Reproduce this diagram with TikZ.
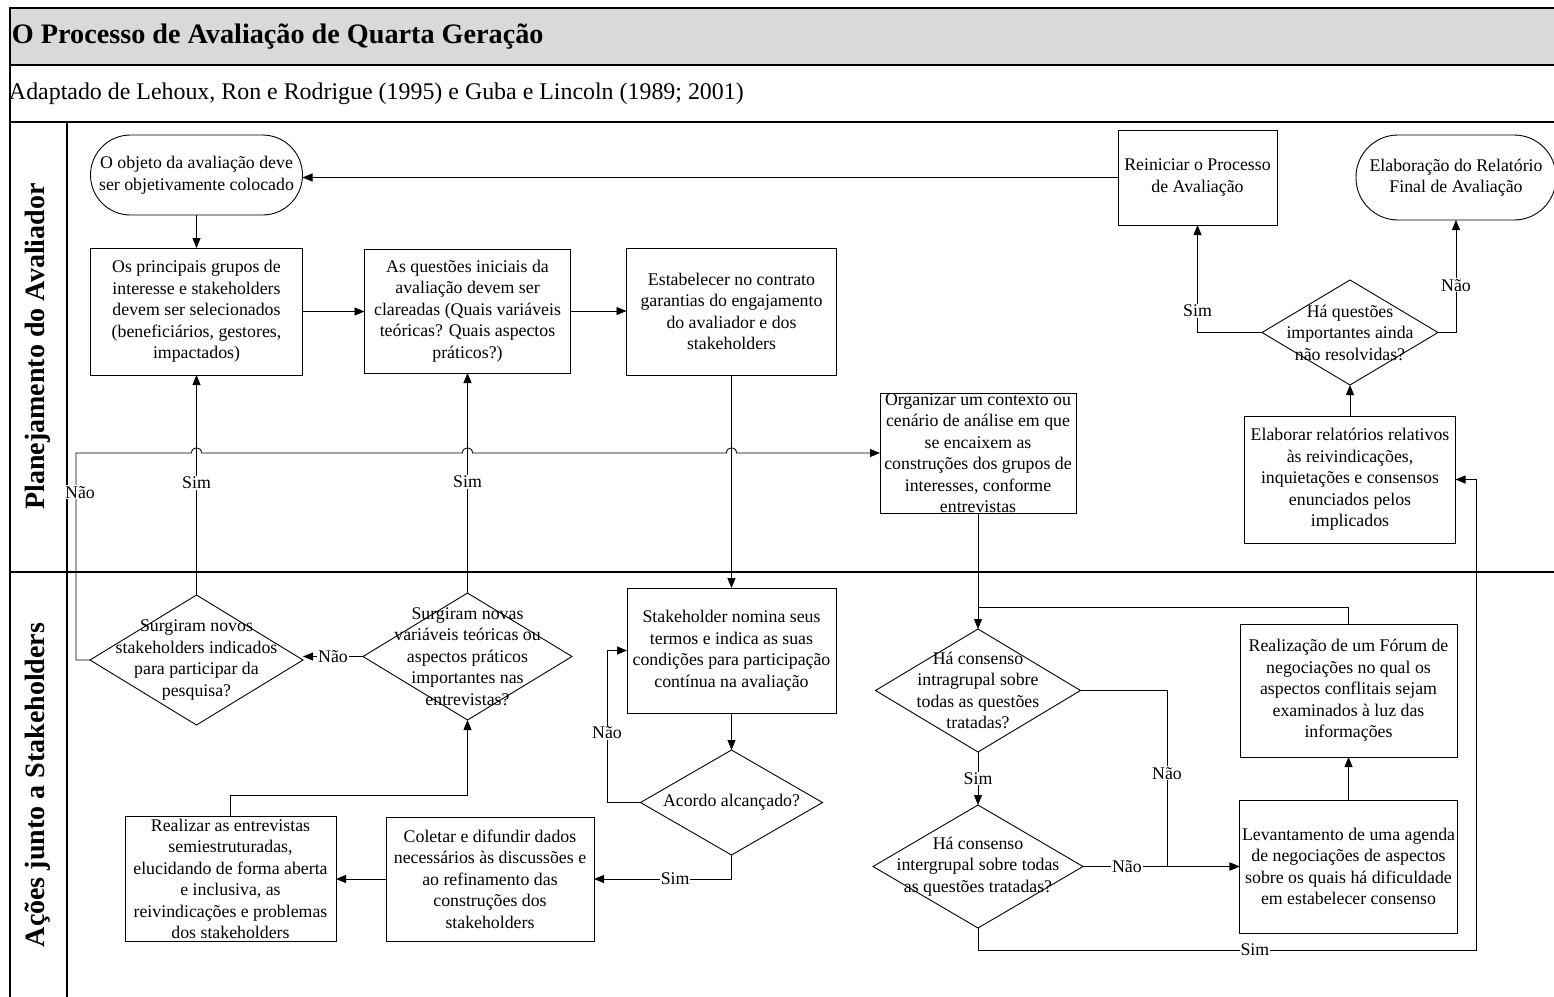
\documentclass[tikz,border=0pt]{standalone}
\usepackage{fontspec}
\setmainfont{Liberation Serif}
\usetikzlibrary{arrows.meta,calc,shapes.geometric}
\definecolor{titlegray}{HTML}{D9D9D9}
\begin{document}
\begin{tikzpicture}[x=1pt,y=-1pt,
  every node/.style={inner sep=0pt, outer sep=0pt},
  body/.style={font=\fontsize{17.8}{21.5}\selectfont, align=center},
  pbox/.style={draw, line width=0.9pt, rectangle},
  term/.style={draw, line width=0.9pt, rectangle, rounded corners=40pt},
  decis/.style={draw, line width=0.9pt, diamond},
  conn/.style={line width=0.85pt, -{Triangle[length=10pt,width=8pt]}},
  plainline/.style={line width=0.85pt},
  lbl/.style={fill=white, inner sep=1pt, font=\fontsize{17.8}{21.5}\selectfont},
  lanelbl/.style={font=\fontsize{28}{30}\selectfont\bfseries, rotate=90},
  frameline/.style={line width=1.2pt}
]
\useasboundingbox (0,0) rectangle (1554,996);
% frame
\fill[titlegray] (10,8) rectangle (1560,65);
\draw[frameline] (1560,8) -- (10,8) -- (10,1000);
\draw[frameline] (10,65) -- (1560,65);
\draw[frameline] (10,122) -- (1560,122);
\draw[frameline] (10,572) -- (1560,572);
\draw[frameline] (67,122) -- (67,1000);
\node[anchor=west, font=\fontsize{28.2}{30}\selectfont\bfseries] (title) at (12,37) {O Processo de Avaliação de Quarta Geração};
\node[anchor=west, font=\fontsize{23.9}{26}\selectfont] (subtitle) at (9,94) {Adaptado de Lehoux, Ron e Rodrigue (1995) e Guba e Lincoln (1989; 2001)};
\node[lanelbl] (lane1) at (38,346.5) {Planejamento do Avaliador};
\node[lanelbl] (lane2) at (38,785) {Ações junto a Stakeholders};

% lane 1 nodes
\node[term, minimum width=212pt, minimum height=80pt,
  label={[body,name=t-obj]center:{O objeto da avaliação deve\\ser objetivamente colocado}}] (obj) at (196.5,175) {};
\node[pbox, minimum width=212pt, minimum height=127pt,
  label={[body,name=t-grp]center:{Os principais grupos de\\interesse e stakeholders\\devem ser selecionados\\(beneficiários, gestores,\\impactados)}}] (grp) at (196.5,311.5) {};
\node[pbox, minimum width=206pt, minimum height=124pt,
  label={[body,name=t-qst]center:{As questões iniciais da\\avaliação devem ser\\clareadas (Quais variáveis\\teóricas? Quais aspectos\\práticos?)}}] (qst) at (467.5,311) {};
\node[pbox, minimum width=210pt, minimum height=127pt,
  label={[body,name=t-ctr]center:{Estabelecer no contrato\\garantias do engajamento\\do avaliador e dos\\stakeholders}}] (ctr) at (731.5,311.5) {};
\node[pbox, minimum width=159pt, minimum height=95pt,
  label={[body,name=t-rei]center:{Reiniciar o Processo\\de Avaliação}}] (rei) at (1197.5,177.5) {};
\node[term, rounded corners=42pt, minimum width=200pt, minimum height=85pt,
  label={[body,name=t-fin]center:{Elaboração do Relatório\\Final de Avaliação}}] (fin) at (1456,177.5) {};
\node[decis, minimum width=176pt, minimum height=105pt,
  label={[body,name=t-dq]center:{Há questões\\importantes ainda\\não resolvidas?}}] (dq) at (1350,332.5) {};
\node[pbox, minimum width=211pt, minimum height=127pt,
  label={[body,name=t-rel]center:{Elaborar relatórios relativos\\às reivindicações,\\inquietações e consensos\\enunciados pelos\\implicados}}] (rel) at (1350,479.5) {};
\node[pbox, minimum width=196pt, minimum height=120pt,
  label={[body,name=t-org]center:{Organizar um contexto ou\\cenário de análise em que\\se encaixem as\\construções dos grupos de\\interesses, conforme\\entrevistas}}] (org) at (978,453) {};

% lane 2 nodes
\node[decis, minimum width=213pt, minimum height=130pt,
  label={[body,name=t-d1]center:{Surgiram novos\\stakeholders indicados\\para participar da\\pesquisa?}}] (d1) at (196.5,660) {};
\node[decis, minimum width=209pt, minimum height=127pt,
  label={[body,name=t-d2]center:{Surgiram novas\\variáveis teóricas ou\\aspectos práticos\\importantes nas\\entrevistas?}}] (d2) at (467.5,656.5) {};
\node[pbox, minimum width=209pt, minimum height=125pt,
  label={[body,name=t-stk]center:{Stakeholder nomina seus\\termos e indica as suas\\condições para participação\\contínua na avaliação}}] (stk) at (731.5,650.5) {};
\node[decis, minimum width=182pt, minimum height=105pt,
  label={[body,name=t-acd]center:{Acordo alcançado?}}] (acd) at (731.5,802.5) {};
\node[pbox, minimum width=208pt, minimum height=124pt,
  label={[body,name=t-col]center:{Coletar e difundir dados\\necessários às discussões e\\ao refinamento das\\construções dos\\stakeholders}}] (col) at (490,879) {};
\node[pbox, minimum width=211pt, minimum height=125pt,
  label={[body,name=t-rea]center:{Realizar as entrevistas\\semiestruturadas,\\elucidando de forma aberta\\e inclusiva, as\\reivindicações e problemas\\dos stakeholders}}] (rea) at (230.5,879) {};
\node[decis, minimum width=205pt, minimum height=123pt,
  label={[body,name=t-c1]center:{Há consenso\\intragrupal sobre\\todas as questões\\tratadas?}}] (c1) at (978,690.5) {};
\node[decis, minimum width=210pt, minimum height=123pt,
  label={[body,name=t-c2]center:{Há consenso\\intergrupal sobre todas\\as questões tratadas?}}] (c2) at (978,866.5) {};
\node[pbox, minimum width=217pt, minimum height=133pt,
  label={[body,name=t-frm]center:{Realização de um Fórum de\\negociações no qual os\\aspectos conflitais sejam\\examinados à luz das\\informações}}] (frm) at (1348.5,690.5) {};
\node[pbox, minimum width=218pt, minimum height=133pt,
  label={[body,name=t-lev]center:{Levantamento de uma agenda\\de negociações de aspectos\\sobre os quais há dificuldade\\em estabelecer consenso}}] (lev) at (1348.5,866.5) {};

% helper coordinates
\coordinate (nb) at (76,453);
\coordinate (h1) at (grp.south |- nb);
\coordinate (h2) at (qst.south |- nb);
\coordinate (h3) at (ctr.south |- nb);
\coordinate (an) at (607,650.5);
\coordinate (rb) at (230.5,795);
\coordinate (jn) at (978,607);
\coordinate (cn) at (1167,690.5);
\coordinate (sb) at (1476,950);

% connectors lane 1
\draw[conn] (rei.west) -- (rei.west -| obj.east);
\draw[conn] (obj.south) -- (grp.north);
\draw[conn] (grp.east) -- (grp.east -| qst.west);
\draw[conn] (qst.east) -- (qst.east -| ctr.west);
\draw[conn] (ctr.south) -- (stk.north);
\draw[conn] (rel.north) -- (dq.south);
\draw[conn] (dq.west) -- (dq.west -| rei.south) -- node[lbl,pos=0.2]{Sim} (rei.south);
\draw[conn] (dq.east) -- (dq.east -| fin.south) -- node[lbl,pos=0.42]{Não} (fin.south);

% connectors lane 2 / cross-lane
\draw[conn] (d1.north) -- node[lbl,pos=0.51]{Sim} (grp.south);
\draw[conn] (d2.north) -- node[lbl,pos=0.505]{Sim} (qst.south);
\draw[conn] (d2.west) -- node[lbl]{Não} (d2.west -| d1.east);
\draw[conn] (d1.west) -- (d1.west -| nb) -- node[lbl,pos=0.81,xshift=4pt]{Não} (nb)
  -- ($(h1)+(-5,0)$) .. controls ($(h1)+(-5,-7)$) and ($(h1)+(5,-7)$) .. ($(h1)+(5,0)$)
  -- ($(h2)+(-5,0)$) .. controls ($(h2)+(-5,-7)$) and ($(h2)+(5,-7)$) .. ($(h2)+(5,0)$)
  -- ($(h3)+(-5,0)$) .. controls ($(h3)+(-5,-7)$) and ($(h3)+(5,-7)$) .. ($(h3)+(5,0)$)
  -- (nb -| org.west);
\draw[conn] (stk.south) -- (acd.north);
\draw[conn] (acd.west) -- (acd.west -| an) -- node[lbl,pos=0.46]{Não} (an) -- (stk.west);
\draw[conn] (acd.south) -- (acd.south |- col.east) -- node[lbl,pos=0.41]{Sim} (col.east);
\draw[conn] (col.west) -- (rea.east);
\draw[conn] (rea.north) -- (rea.north |- rb) -| (d2.south);
\draw[conn] (org.south) -- (c1.north);
\draw[plainline] (frm.north) -- (frm.north |- jn) -- (jn);
\draw[conn] (c1.south) -- node[lbl]{Sim} (c2.north);
\draw[conn] (c1.east) -- (cn) -- node[lbl,pos=0.47]{Não} (cn |- lev.west) -- (lev.west);
\draw[conn] (c2.east) -- node[lbl,pos=0.28]{Não} (lev.west);
\draw[conn] (c2.south) -- (c2.south |- sb) -- node[lbl,pos=0.556]{Sim} (sb) -- (sb |- rel.east) -- (rel.east);
\draw[conn] (lev.north) -- (frm.south);
\end{tikzpicture}
\end{document}
